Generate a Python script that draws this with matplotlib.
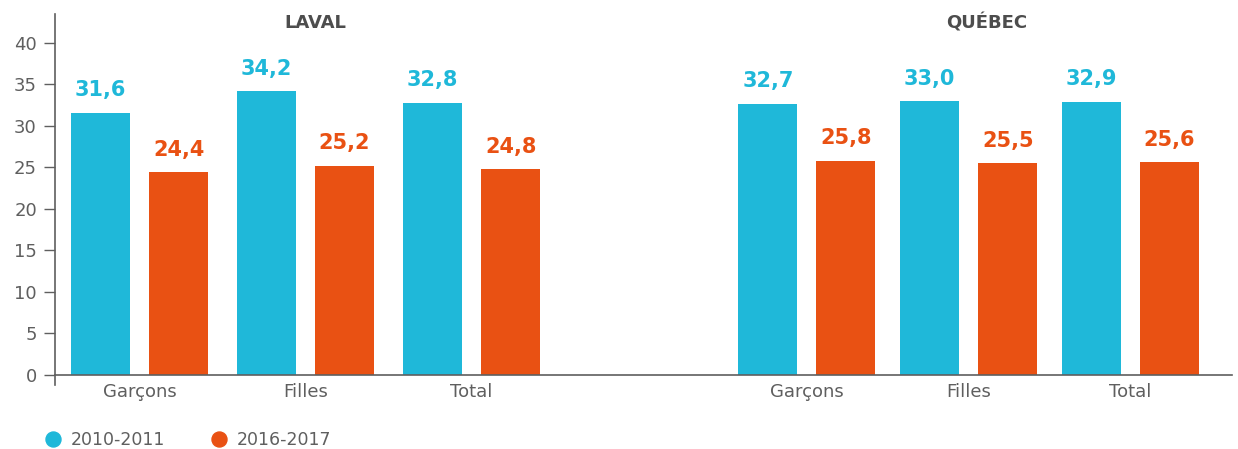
import numpy as np
import matplotlib
matplotlib.use("Agg")
import matplotlib.pyplot as plt
from matplotlib.lines import Line2D

plt.rcParams['font.family'] = ['DejaVu Sans']

# data
categories = ['Garçons', 'Filles', 'Total']
regions = ['LAVAL', 'QUÉBEC']
series = ['2010-2011', '2016-2017']
laval_2010 = [31.6, 34.2, 32.8]
laval_2016 = [24.4, 25.2, 24.8]
quebec_2010 = [32.7, 33.0, 32.9]
quebec_2016 = [25.8, 25.5, 25.6]

blue = '#1fb8d9'
orange = '#e95113'
grey = '#5f5f5f'

fig = plt.figure(figsize=(12.38, 4.49), dpi=100)
ax = fig.add_axes([0.0444, 0.165, 0.9506, 0.804])

laval_x = np.arange(3) * 1.0
quebec_x = 4.02 + np.arange(3) * 0.975
offset = 0.235
width = 0.355

groups = [(laval_x, laval_2010, laval_2016), (quebec_x, quebec_2010, quebec_2016)]
for xs, v1, v2 in groups:
    b1 = ax.bar(xs - offset, v1, width, color=blue)
    b2 = ax.bar(xs + offset, v2, width, color=orange)
    for bars, vals, col in ((b1, v1, blue), (b2, v2, orange)):
        for b, v in zip(bars, vals):
            ax.annotate(f"{v:.1f}".replace('.', ','),
                        (b.get_x() + b.get_width() / 2, v),
                        xytext=(0, 9), textcoords='offset points',
                        ha='center', va='bottom', color=col,
                        fontsize=15, fontweight='bold')

# region titles
for xs, name, dx in zip((laval_x, quebec_x), regions, (0.06, 0.11)):
    ax.text(xs.mean() + dx, 42.4, name, ha='center', va='center',
            fontsize=13, fontweight='bold', color='#4d4d4d')

ax.set_xlim(-0.51, 6.58)
ax.set_ylim(0, 43.5)
ax.set_yticks(np.arange(0, 41, 5))
ax.set_xticks(np.concatenate([laval_x, quebec_x]))
ax.set_xticklabels(categories * 2)

for s in ('top', 'right'):
    ax.spines[s].set_visible(False)
for s in ('left', 'bottom'):
    ax.spines[s].set_color(grey)
    ax.spines[s].set_linewidth(1.2)

ax.tick_params(axis='y', length=8, width=1, color=grey, labelcolor=grey,
               labelsize=13, pad=5)
ax.tick_params(axis='x', length=0, labelcolor=grey, labelsize=13, pad=6)

# y spine running a little below zero
ax.add_line(Line2D([0, 0], [0, -0.028], transform=ax.transAxes,
                   color=grey, lw=1.2, clip_on=False))

# legend
handles = [Line2D([], [], marker='o', ls='', markersize=10.8, color=c) for c in (blue, orange)]
fig.legend(handles, series, loc='center left', bbox_to_anchor=(0.0358, 0.02),
           ncol=2, frameon=False, fontsize=12.5, labelcolor=grey,
           borderpad=0, borderaxespad=0,
           handletextpad=0.53, columnspacing=2.6, handlelength=1.0)

fig.savefig('out.png', dpi=100)
